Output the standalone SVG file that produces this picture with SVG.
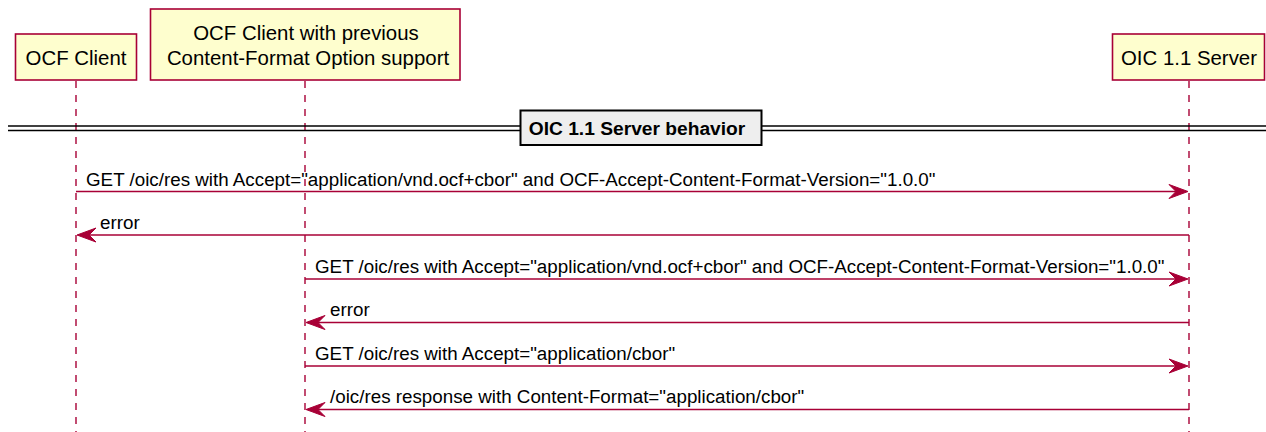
<svg xmlns="http://www.w3.org/2000/svg" width="1266" height="432" viewBox="0 0 1266 432">
<style>
.box{fill:#FEFECE;stroke:#A80036;stroke-width:1.6}
.life{stroke:#A80036;stroke-width:1.4;stroke-dasharray:7,7;fill:none}
.msg{stroke:#A80036;stroke-width:1.4;fill:none}
.head{fill:#A80036;stroke:#A80036;stroke-width:1}
.t{font-family:"Liberation Sans",Arial,sans-serif;font-size:18.8px;fill:#000}
.h{font-size:20.4px}
.c{text-anchor:middle}
.b{font-weight:bold;font-size:19.2px}
</style>
<rect width="1266" height="432" fill="#FFFFFF"/>
<g id="lifelines">
<line class="life" x1="76" y1="81" x2="76" y2="432"/>
<line class="life" x1="305" y1="81" x2="305" y2="432"/>
<line class="life" x1="1189" y1="81" x2="1189" y2="432"/>
</g>
<g id="p_ocf_client">
<rect class="box" x="15.5" y="34" width="121" height="46"/>
<text class="t h c" x="76" y="64.5">OCF Client</text>
</g>
<g id="p_ocf_client_prev">
<rect class="box" x="150.5" y="9" width="309.5" height="71"/>
<text class="t h c" x="306" y="40">OCF Client with previous</text>
<text class="t h c" x="308" y="64.5">Content-Format Option support</text>
</g>
<g id="p_oic_server">
<rect class="box" x="1112.5" y="34" width="152" height="46"/>
<text class="t h c" x="1189" y="64.5">OIC 1.1 Server</text>
</g>
<g id="divider">
<line x1="8" y1="126" x2="1266" y2="126" stroke="#000" stroke-width="1.4"/>
<line x1="8" y1="130.5" x2="1266" y2="130.5" stroke="#000" stroke-width="1.4"/>
<rect x="520.5" y="110.5" width="241" height="34.5" fill="#EEEEEE" stroke="#000" stroke-width="2"/>
<text class="t c b" x="637" y="135">OIC 1.1 Server behavior</text>
</g>
<g id="connectors">
<line class="msg" x1="76" y1="191.5" x2="1184" y2="191.5"/>
<polygon class="head" points="1169,184.5 1188,191.5 1169,198.5 1176,191.5"/>
<text class="t" x="86" y="185.5">GET /oic/res with Accept="application/vnd.ocf+cbor" and OCF-Accept-Content-Format-Version="1.0.0"</text>

<line class="msg" x1="81" y1="235" x2="1189" y2="235"/>
<polygon class="head" points="96,228 77,235 96,242 89,235"/>
<text class="t" x="100" y="228.5">error</text>

<line class="msg" x1="305" y1="279" x2="1184" y2="279"/>
<polygon class="head" points="1169,272 1188,279 1169,286 1176,279"/>
<text class="t" x="315" y="273">GET /oic/res with Accept="application/vnd.ocf+cbor" and OCF-Accept-Content-Format-Version="1.0.0"</text>

<line class="msg" x1="310" y1="322.5" x2="1189" y2="322.5"/>
<polygon class="head" points="325,315.5 306,322.5 325,329.5 318,322.5"/>
<text class="t" x="330" y="316">error</text>

<line class="msg" x1="305" y1="366" x2="1184" y2="366"/>
<polygon class="head" points="1169,359 1188,366 1169,373 1176,366"/>
<text class="t" x="315" y="360">GET /oic/res with Accept="application/cbor"</text>

<line class="msg" x1="310" y1="409.5" x2="1189" y2="409.5"/>
<polygon class="head" points="325,402.5 306,409.5 325,416.5 318,409.5"/>
<text class="t" x="330" y="403">/oic/res response with Content-Format="application/cbor"</text>
</g>
</svg>
